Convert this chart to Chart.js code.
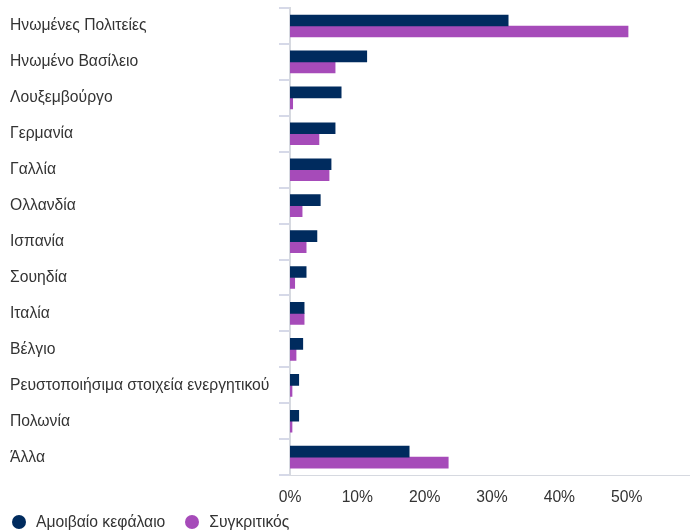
<!DOCTYPE html>
<html>
<head>
<meta charset="utf-8">
<script src="https://cdn.jsdelivr.net/npm/chart.js@4.4.1/dist/chart.umd.min.js"></script>
<style>
  body { margin: 0; background: #fff; overflow: hidden; }
  #wrap { width: 690px; height: 530px; position: relative; }
  #legend {
    position: absolute; left: 12px; top: 513px;
    display: flex; gap: 20px;
    font-family: Arial, "Liberation Sans", sans-serif; font-size: 15.7px; color: #333;
  }
  #legend .item { display: flex; align-items: center; line-height: 18px; }
  #legend .dot { width: 14px; height: 14px; border-radius: 50%; margin-right: 10px; }
</style>
</head>
<body>
<div id="wrap">
  <canvas id="chart"></canvas>
  <div id="legend"></div>
</div>
<script>
// Categories (countries / asset groups)
const categories = [
    'Ηνωμένες Πολιτείες',
    'Ηνωμένο Βασίλειο',
    'Λουξεμβούργο',
    'Γερμανία',
    'Γαλλία',
    'Ολλανδία',
    'Ισπανία',
    'Σουηδία',
    'Ιταλία',
    'Βέλγιο',
    'Ρευστοποιήσιμα στοιχεία ενεργητικού',
    'Πολωνία',
    'Άλλα'
];

// Series values (%)
const fundValues = [32.4, 11.4, 7.6, 6.7, 6.1, 4.5, 4.0, 2.4, 2.1, 1.9, 1.3, 1.3, 17.7];
const benchmarkValues = [50.2, 6.7, 0.4, 4.3, 5.8, 1.8, 2.4, 0.7, 2.1, 0.9, 0.3, 0.3, 23.5];

const seriesNames = ['Αμοιβαίο κεφάλαιο', 'Συγκριτικός'];
const seriesColors = ['#002B5E', '#A64BB9'];
const xTicks = [0, 10, 20, 30, 40, 50];

const textColor = '#333333';
const fontFamily = 'Arial, "Liberation Sans", sans-serif';
const fontSize = 15.7;

const ctx = document.getElementById('chart').getContext('2d');
const chart = new Chart(ctx, {
    type: 'bar',
    data: {
        labels: categories,
        datasets: [{
            label: seriesNames[0],
            data: fundValues,
            backgroundColor: seriesColors[0],
            barThickness: 11
        }, {
            label: seriesNames[1],
            data: benchmarkValues,
            backgroundColor: seriesColors[1],
            barThickness: 11
        }]
    },
    options: {
        indexAxis: 'y',
        responsive: true,
        maintainAspectRatio: false,
        animation: false,
        layout: { padding: { left: 10, top: 8, right: 0, bottom: 10 } },
        plugins: {
            tooltip: { enabled: false },
            legend: { display: false }
        },
        scales: {
            x: {
                min: 0,
                max: 59.4,
                afterBuildTicks: axis => { axis.ticks = xTicks.map(v => ({ value: v })); },
                grid: { display: false, drawTicks: false },
                border: { display: true, color: '#d6d9e0', width: 1 },
                ticks: {
                    padding: 13,
                    color: textColor,
                    font: { family: fontFamily, size: fontSize },
                    callback: v => v + '%'
                }
            },
            y: {
                afterFit: axis => {
                    axis.width = 280;
                    axis.paddingTop = 0;
                    axis.paddingBottom = 0;
                },
                grid: {
                    offset: true,
                    drawOnChartArea: false,
                    tickLength: 11,
                    color: '#d6d9e8',
                    lineWidth: 2
                },
                border: { display: true, color: '#d6d9e0', width: 2 },
                ticks: {
                    crossAlign: 'far',
                    color: textColor,
                    font: { family: fontFamily, size: fontSize }
                }
            }
        }
    }
});

// HTML legend built from the datasets
const legend = document.getElementById('legend');
chart.data.datasets.forEach(ds => {
    const item = document.createElement('div');
    item.className = 'item';
    const dot = document.createElement('span');
    dot.className = 'dot';
    dot.style.background = ds.backgroundColor;
    const label = document.createElement('span');
    label.textContent = ds.label;
    item.appendChild(dot);
    item.appendChild(label);
    legend.appendChild(item);
});
</script>
</body>
</html>
